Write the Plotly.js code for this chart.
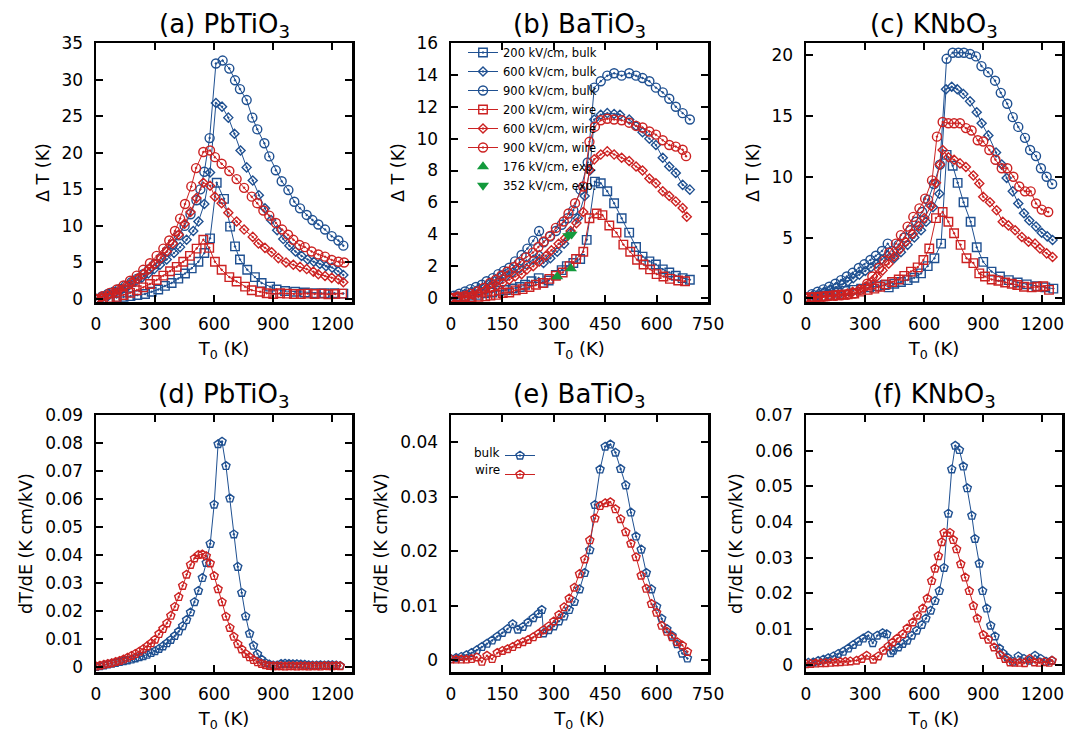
<!DOCTYPE html>
<html><head><meta charset="utf-8">
<script src="https://cdn.plot.ly/plotly-3.0.1.min.js"></script>
<style>html,body{margin:0;padding:0;background:#fff;} #chart{width:1083px;height:738px;}</style>
</head><body><div id="chart"></div>
<script>
// ---------- (a) PbTiO3 : Delta T (K) ----------
const a_T_b200 = [0,35,70,105,140,175,210,249,283,316,350,384,418,452,486,520,550,579,613,650,681,706,731,768,807,841,884,917,960,1011,1061,1112,1160,1210,1256];
const a_V_b200 = [0,0.05,0.1,0.2,0.3,0.4,0.55,0.7,1.0,1.3,1.8,2.2,2.8,3.5,4.2,5.1,6.3,8.3,15.9,13.7,9.9,7.2,5.4,4.0,3.0,2.2,1.7,1.3,1.1,1.0,0.9,0.8,0.8,0.8,0.75];
const a_T_b600 = [0,30,63,96,130,164,198,232,266,296,325,359,396,427,460,494,520,550,579,609,640,672,703,734,765,796,827,858,889,920,951,982,1013,1044,1075,1106,1137,1168,1199,1230,1256];
const a_V_b600 = [0,0.2,0.45,0.85,1.3,1.8,2.35,2.9,3.5,4.1,4.7,5.4,6.3,7.1,8.1,9.3,10.6,13.0,17.3,26.8,26.3,24.8,22.6,20.3,18.0,16.2,14.2,12.4,10.8,9.4,8.2,7.3,6.5,5.9,5.4,5.1,4.8,4.5,4.3,3.8,3.3];
const a_T_b900 = [0,30,60,90,120,150,180,210,240,270,300,330,360,390,420,450,480,510,530,550,577,609,643,677,706,731,765,794,819,855,880,913,943,977,1007,1036,1070,1099,1129,1163,1197,1231,1256];
const a_V_b900 = [0,0.35,0.7,1.0,1.4,1.8,2.3,2.8,3.4,4.1,4.8,5.6,6.5,7.5,8.7,10.0,11.6,13.5,15.0,17.4,22.0,32.2,32.6,31.5,29.9,28.7,27.2,24.8,23.2,21.3,19.5,17.6,16.1,14.9,13.3,12.4,11.5,10.8,10.2,9.5,8.6,8.0,7.3];
const a_T_w200 = [0,35,70,105,139,173,207,240,274,308,342,376,410,443,477,511,545,575,604,638,677,714,757,791,833,867,900,935,970,1005,1040,1075,1110,1145,1180,1215,1250];
const a_V_w200 = [0,0.05,0.15,0.3,0.55,0.85,1.2,1.6,2.05,2.6,3.2,3.8,4.4,5.1,5.9,6.9,8.1,7.0,5.1,4.0,3.0,2.4,1.7,1.2,1.0,0.8,0.7,0.8,0.75,0.7,0.7,0.75,0.7,0.75,0.65,0.7,0.75];
const a_T_w600 = [0,30,60,90,120,150,180,210,240,270,300,330,360,390,420,450,480,510,545,579,604,638,672,714,752,796,825,858,892,926,965,1002,1036,1070,1104,1129,1163,1197,1231,1256];
const a_V_w600 = [0,0.25,0.55,0.9,1.3,1.75,2.25,2.8,3.4,4.1,4.8,5.6,6.5,7.6,8.8,10.3,11.9,13.8,15.9,15.5,14.0,13.1,11.8,10.6,9.5,8.5,7.6,7.0,6.4,5.6,5.0,4.7,4.4,4.1,3.75,3.4,3.15,2.9,2.7,2.3];
const a_T_w900 = [0,35,70,105,140,173,207,240,274,308,342,372,401,427,452,484,508,545,579,604,638,677,714,752,791,819,850,880,914,945,975,1002,1033,1061,1095,1129,1163,1197,1231,1260];
const a_V_w900 = [0,0.4,0.85,1.3,1.85,2.5,3.2,4.0,4.9,5.9,6.9,8.0,9.3,11.0,13.0,15.4,17.9,20.1,20.3,19.4,18.5,17.5,16.4,15.2,14.0,13.1,12.1,11.4,10.4,9.5,8.8,8.1,7.4,7.1,6.5,6.1,5.8,5.35,5.1,5.0];

// ---------- (b) BaTiO3 : Delta T (K) ----------
const b_T_b200 = [0,20,40,60,80,100,120,140,160,180,201,216,235,256,270,285,306,323,338,357,377,396,420,437,456,476,498,520,540,559,579,598,618,637,656,676,697];
const b_V_b200 = [0,0.05,0.1,0.15,0.2,0.3,0.35,0.45,0.5,0.6,0.69,0.83,1.05,1.25,0.95,1.1,1.45,1.75,2.0,2.2,2.45,3.65,7.3,7.2,6.7,5.95,5.0,4.1,3.2,2.6,2.3,2.1,1.8,1.6,1.4,1.25,1.15];
const b_T_b600 = [0,20,40,60,80,100,120,140,160,180,200,220,240,258,270,290,310,330,350,370,390,405,418,437,456,476,493,520,540,559,579,598,618,637,656,676,697];
const b_V_b600 = [0,0.1,0.25,0.4,0.55,0.7,0.9,1.1,1.35,1.6,1.85,2.1,2.4,2.7,2.2,2.5,2.9,3.4,4.1,5.0,6.4,8.0,11.2,11.5,11.6,11.55,11.5,11.2,10.8,10.4,10.0,9.6,8.8,8.25,7.85,7.1,6.8];
const b_T_b900 = [0,9,24,41,57,73,90,104,122,138,154,170,187,206,223,240,257,270,289,306,323,340,357,378,399,418,437,456,476,498,520,540,559,579,598,618,637,656,676,697];
const b_V_b900 = [0,0.14,0.27,0.41,0.56,0.69,0.83,1.05,1.25,1.5,1.7,1.9,2.3,2.7,3.1,3.6,4.2,3.5,3.85,4.2,4.6,5.0,5.5,6.8,8.5,13.2,13.6,13.95,14.1,13.95,14.1,13.95,13.8,13.6,13.2,12.9,12.5,12.0,11.6,11.2];
const b_T_w200 = [0,20,40,60,80,100,115,131,151,170,189,209,229,248,268,287,306,326,346,365,386,404,425,442,462,483,503,523,543,562,581,600,620,639,663,683];
const b_V_w200 = [0,0.02,0.05,0.05,0.08,0.1,0.15,0.2,0.31,0.35,0.48,0.56,0.69,0.83,0.94,1.2,1.4,1.6,2.0,2.45,2.9,5.0,5.3,5.2,4.55,4.1,3.35,2.9,2.4,2.1,1.8,1.5,1.35,1.2,1.1,1.05];
const b_T_w600 = [0,20,46,63,80,99,116,133,151,170,187,206,222,240,258,277,293,314,333,349,366,386,404,418,437,456,476,498,520,540,559,579,598,618,637,656,676,688];
const b_V_w600 = [0,0.03,0.1,0.2,0.31,0.48,0.63,0.77,0.94,1.15,1.35,1.5,1.8,2.0,2.3,2.65,3.0,3.4,3.75,4.2,4.7,5.4,8.05,8.7,9.0,9.2,9.0,8.8,8.6,8.25,8.0,7.5,7.2,6.7,6.4,6.06,5.65,5.1];
const b_T_w900 = [0,21,41,57,77,95,114,131,147,164,184,201,219,239,255,271,289,306,329,343,362,386,404,420,437,456,476,498,520,540,559,579,598,618,637,656,676,686];
const b_V_w900 = [0,0.1,0.14,0.27,0.41,0.63,0.94,1.15,1.4,1.65,1.95,2.25,2.55,2.85,3.2,3.55,3.9,4.4,4.8,5.3,5.95,7.0,9.8,10.75,11.15,11.25,11.2,11.15,11.0,10.8,10.7,10.45,10.25,9.9,9.6,9.5,9.3,8.9];
const b_T_exp176 = [310,350];
const b_V_exp176 = [1.35,1.85];
const b_T_exp352 = [342,352];
const b_V_exp352 = [3.9,4.0];

// ---------- (c) KNbO3 : Delta T (K) ----------
const c_T_b200 = [0,40,80,120,160,200,240,280,320,360,400,420,448,482,516,550,584,618,652,686,714,745,770,800,836,867,900,942,985,1030,1075,1121,1170,1215,1256];
const c_V_b200 = [0,0.1,0.2,0.3,0.45,0.6,0.7,0.8,0.9,1.0,1.1,0.9,1.2,1.35,1.5,1.7,2.05,2.65,3.3,4.5,11.8,10.9,9.5,7.9,6.3,4.2,3.0,2.2,1.8,1.5,1.3,1.15,1.0,0.9,0.8];
const c_T_b600 = [0,34,65,93,122,152,183,212,240,271,301,330,355,384,413,448,482,516,550,584,610,645,677,711,740,768,799,833,867,892,926,965,994,1019,1050,1078,1107,1134,1168,1197,1225,1252];
const c_V_b600 = [0.05,0.25,0.4,0.55,0.72,0.92,1.13,1.38,1.65,1.95,2.25,2.55,2.85,3.2,3.55,3.3,3.8,4.4,5.0,5.6,6.3,7.5,8.6,17.2,17.4,17.2,16.8,16.2,15.3,14.4,13.4,12.0,11.0,9.9,8.8,7.8,7.0,6.4,5.9,5.4,5.1,4.8];
const c_T_b900 = [0,30,59,88,118,149,178,207,237,268,296,327,355,386,415,440,470,500,530,560,590,620,650,680,714,745,774,802,833,863,891,925,960,989,1022,1050,1078,1112,1138,1168,1193,1222,1250];
const c_V_b900 = [0.1,0.35,0.54,0.74,0.95,1.2,1.5,1.8,2.1,2.5,2.8,3.15,3.5,3.9,4.5,3.9,4.4,5.0,5.6,6.3,7.1,8.1,9.4,11.0,19.7,20.2,20.2,20.2,20.1,19.9,19.1,18.6,17.9,16.9,16.0,14.9,14.1,13.2,12.2,11.7,10.7,10.0,9.4];
const c_T_w200 = [0,30,60,90,120,150,180,212,245,279,313,347,376,406,437,471,499,533,567,596,626,660,694,723,752,785,815,850,880,909,943,977,1011,1045,1073,1107,1146,1175,1205,1234];
const c_V_w200 = [0.05,0.1,0.12,0.15,0.2,0.25,0.3,0.33,0.4,0.55,0.7,0.8,0.95,1.15,1.35,1.55,1.85,2.2,2.55,3.15,4.1,6.6,7.1,6.3,5.35,4.4,3.3,2.9,2.05,1.8,1.55,1.45,1.3,1.2,1.1,0.95,0.9,0.95,1.0,0.7];
const c_T_w600 = [0,30,60,90,120,150,180,210,237,271,301,330,360,389,420,448,477,507,541,572,601,635,660,680,694,723,752,782,812,850,880,900,934,968,999,1028,1062,1096,1130,1163,1188,1222,1252];
const c_V_w600 = [0.05,0.1,0.12,0.15,0.2,0.25,0.3,0.4,0.54,0.74,0.95,1.35,1.8,2.3,2.85,3.45,4.05,4.65,5.3,5.95,6.6,7.6,9.5,11.0,12.2,11.6,11.4,11.1,10.8,10.1,9.45,8.35,7.9,7.25,6.3,6.0,5.6,5.05,4.65,4.5,4.1,3.7,3.4];
const c_T_w900 = [0,30,60,90,120,150,180,210,245,277,311,337,370,398,423,457,482,516,545,576,605,640,665,694,723,752,782,812,841,872,900,931,962,994,1022,1053,1083,1112,1141,1168,1197,1230];
const c_V_w900 = [0.05,0.05,0.1,0.15,0.2,0.2,0.25,0.3,0.4,0.7,1.2,1.8,2.5,3.1,3.75,4.5,5.2,5.9,6.7,7.4,8.2,9.7,13.3,14.5,14.4,14.4,14.4,14.0,13.8,13.0,12.9,12.2,11.4,10.7,10.7,10.0,9.2,8.8,8.8,7.8,7.3,7.1];

// ---------- (d) PbTiO3 : dT/dE ----------
const d_T = [0,20,40,60,80,100,120,140,160,180,200,220,240,260,280,300,320,340,360,380,400,420,440,460,480,500,520,540,560,580,600,620,640,660,680,700,720,740,760,780,800,820,840,860,880,900,920,940,960,980,1000,1020,1040,1060,1080,1100,1120,1140,1160,1180,1200,1220,1240];
const d_V_bulk = [0.0000,0.0003,0.0006,0.0009,0.0012,0.0015,0.0018,0.0021,0.0024,0.0027,0.0031,0.0035,0.0039,0.0044,0.0050,0.0057,0.0065,0.0074,0.0085,0.0097,0.0111,0.0127,0.0146,0.0168,0.0195,0.0232,0.0272,0.0318,0.0372,0.0440,0.0580,0.0796,0.0805,0.0718,0.0602,0.0474,0.0358,0.0265,0.0181,0.0119,0.0076,0.0046,0.0027,0.0015,0.0009,0.0006,0.0006,0.0011,0.0012,0.0011,0.0010,0.0010,0.0009,0.0008,0.0007,0.0006,0.0006,0.0007,0.0006,0.0007,0.0007,0.0006,0.0004];
const d_V_wire = [0.0002,0.0005,0.0008,0.0011,0.0014,0.0018,0.0022,0.0027,0.0033,0.0040,0.0047,0.0055,0.0064,0.0074,0.0085,0.0098,0.0118,0.0136,0.0156,0.0183,0.0215,0.0250,0.0290,0.0330,0.0365,0.0388,0.0400,0.0402,0.0396,0.0370,0.0325,0.0278,0.0232,0.0180,0.0140,0.0108,0.0082,0.0063,0.0047,0.0035,0.0025,0.0017,0.0011,0.0007,0.0004,0.0003,0.0003,0.0003,0.0002,0.0003,0.0003,0.0002,0.0003,0.0003,0.0002,0.0003,0.0003,0.0002,0.0004,0.0003,0.0003,0.0004,0.0003];

// ---------- (e) BaTiO3 : dT/dE ----------
const e_T_bulk = [0,15,30,45,60,75,90,105,120,135,150,165,180,195,210,225,240,255,265,270,285,300,315,330,345,360,375,390,405,420,435,450,465,480,495,510,525,540,555,570,585,600,615,630,645,660,675,690];
const e_V_bulk = [0.0002,0.0004,0.0006,0.0009,0.0013,0.0018,0.0024,0.003,0.0036,0.0043,0.005,0.0057,0.0066,0.0056,0.0061,0.0069,0.0077,0.0085,0.0092,0.0049,0.0055,0.0062,0.0071,0.008,0.0092,0.0107,0.013,0.016,0.0202,0.0285,0.035,0.0392,0.0396,0.0381,0.0351,0.0321,0.0271,0.0227,0.0203,0.016,0.013,0.0098,0.0076,0.0057,0.0045,0.0029,0.0012,0.0003];
const e_T_wire = [0,15,30,45,60,75,90,105,120,135,150,165,180,195,210,225,240,255,270,285,300,315,330,345,360,375,390,405,420,435,450,465,480,495,510,525,540,555,570,585,600,615,630,645,660,675,690];
const e_V_wire = [0.0001,0.0001,0.0001,0.0001,0.0002,0.0005,-0.0003,0.0008,0.0002,0.0013,0.0017,0.002,0.0024,0.0029,0.0033,0.0037,0.0042,0.0048,0.0055,0.0062,0.0071,0.0083,0.0097,0.0113,0.0133,0.0158,0.0185,0.022,0.026,0.0283,0.0288,0.029,0.0277,0.0259,0.0235,0.0214,0.0189,0.0155,0.0131,0.0103,0.0087,0.0063,0.0052,0.0042,0.0033,0.0027,0.0015];

// ---------- (f) KNbO3 : dT/dE ----------
const f_T_bulk = [12,37,62,88,113,139,164,189,215,240,266,291,316,339,362,389,410,430,443,469,491,514,537,562,588,609,633,655,677,701,723,740,758,779,799,819,842,858,880,897,918,938,960,982,999,1022,1050,1078,1107,1134,1163,1192,1219,1248];
const f_V_bulk = [0.0006,0.0007,0.0011,0.0015,0.0019,0.0024,0.0031,0.0037,0.0046,0.0056,0.0065,0.0074,0.0082,0.0061,0.0082,0.0089,0.0086,0.0033,0.004,0.0049,0.0059,0.0068,0.0082,0.0096,0.0112,0.013,0.0152,0.0179,0.0207,0.0272,0.0424,0.0548,0.0614,0.0602,0.0556,0.0495,0.0418,0.0353,0.0284,0.0207,0.0158,0.011,0.008,0.0046,0.0033,0.0021,0.0009,0.0024,0.0017,0.0012,0.0026,0.0017,0.0009,0.0012];
const f_T_wire = [0,25,50,75,100,125,150,175,200,225,257,283,308,342,367,393,418,440,464,491,514,542,565,593,616,638,655,672,689,701,731,748,765,786,808,829,850,870,900,926,955,985,1011,1036,1060,1085,1110,1135,1160,1185,1210,1235,1250];
const f_V_wire = [0.0002,0.0003,0.0004,0.0005,0.0005,0.0006,0.0007,0.0008,0.0009,0.001,0.0012,0.0017,0.0026,0.0015,0.0024,0.004,0.0052,0.0063,0.0074,0.0086,0.0102,0.0119,0.0138,0.0158,0.0186,0.0235,0.027,0.0305,0.0344,0.037,0.037,0.035,0.0324,0.0282,0.0245,0.0207,0.0165,0.013,0.0084,0.0071,0.0049,0.0028,0.0017,0.0007,0.0006,0.0006,0.0005,0.0017,0.0007,0.0006,0.0008,0.0006,0.0012];

const panelTitles = ['(a) PbTiO<sub>3</sub>','(b) BaTiO<sub>3</sub>','(c) KNbO<sub>3</sub>','(d) PbTiO<sub>3</sub>','(e) BaTiO<sub>3</sub>','(f) KNbO<sub>3</sub>'];
const seriesNames = ['200 kV/cm, bulk','600 kV/cm, bulk','900 kV/cm, bulk','200 kV/cm, wire','600 kV/cm, wire','900 kV/cm, wire'];
const expNames = ['176 kV/cm, exp.','352 kV/cm, exp.'];
const derivNames = ['bulk','wire'];

const BLUE = '#1f5091', RED = '#cc2222', GREEN = '#139a3c';
const FONT = 'DejaVu Sans, Arial, sans-serif';

function tr(x, y, color, symbol, size, ax, name, legend) {
  return {
    type: 'scatter', mode: 'lines+markers', x: x, y: y, name: name,
    xaxis: 'x' + ax, yaxis: 'y' + ax,
    line: {color: color, width: 1},
    marker: {symbol: symbol, size: size, color: color, line: {color: color, width: 1.4}},
    showlegend: !!legend, legend: legend || 'legend', cliponaxis: true
  };
}
const SYM = ['square-open-dot','diamond-open-dot','circle-open-dot'];
const SZ = [8.5, 7, 9];
const traces = [];
function addDT(ax, sets, legend) {
  sets.forEach((s, i) => {
    const col = i < 3 ? BLUE : RED;
    traces.push(tr(s[0], s[1], col, SYM[i % 3], SZ[i % 3], ax === 1 ? '' : ax, seriesNames[i], legend));
  });
}
addDT(1, [[a_T_b200,a_V_b200],[a_T_b600,a_V_b600],[a_T_b900,a_V_b900],[a_T_w200,a_V_w200],[a_T_w600,a_V_w600],[a_T_w900,a_V_w900]], null);
addDT(2, [[b_T_b200,b_V_b200],[b_T_b600,b_V_b600],[b_T_b900,b_V_b900],[b_T_w200,b_V_w200],[b_T_w600,b_V_w600],[b_T_w900,b_V_w900]], 'legend');
traces.push({type:'scatter', mode:'markers', x:b_T_exp176, y:b_V_exp176, name:expNames[0], xaxis:'x2', yaxis:'y2',
  marker:{symbol:'triangle-up', size:10.5, color:GREEN}, showlegend:true, legend:'legend'});
traces.push({type:'scatter', mode:'markers', x:b_T_exp352, y:b_V_exp352, name:expNames[1], xaxis:'x2', yaxis:'y2',
  marker:{symbol:'triangle-down', size:10.5, color:GREEN}, showlegend:true, legend:'legend'});
addDT(3, [[c_T_b200,c_V_b200],[c_T_b600,c_V_b600],[c_T_b900,c_V_b900],[c_T_w200,c_V_w200],[c_T_w600,c_V_w600],[c_T_w900,c_V_w900]], null);

traces.push(tr(d_T, d_V_bulk, BLUE, 'pentagon-open-dot', 8.5, 4, derivNames[0], null));
traces.push(tr(d_T, d_V_wire, RED, 'pentagon-open-dot', 8.5, 4, derivNames[1], null));
const eb = tr(e_T_bulk, e_V_bulk, BLUE, 'pentagon-open-dot', 8.5, 5, '', 'legend2');
const ew = tr(e_T_wire, e_V_wire, RED, 'pentagon-open-dot', 8.5, 5, '', 'legend2');
traces.push(eb, ew);
traces.push(tr(f_T_bulk, f_V_bulk, BLUE, 'pentagon-open-dot', 8.5, 6, derivNames[0], null));
traces.push(tr(f_T_wire, f_V_wire, RED, 'pentagon-open-dot', 8.5, 6, derivNames[1], null));

const W = 1083, H = 738;
const XD = [[96/W, 352/W],[451/W, 708/W],[806/W, 1062/W]];
const YD = [[(H-302)/H, (H-43)/H],[(H-672)/H, (H-415)/H]];

function axisBase(extra) {
  return Object.assign({
    showline: true, mirror: 'allticks', linecolor: '#000', linewidth: 2.5,
    ticks: 'inside', ticklen: 7, tickwidth: 2, tickcolor: '#000',
    showgrid: false, zeroline: false, fixedrange: true,
    tickfont: {family: FONT, size: 17, color: '#000'}
  }, extra);
}
const T0 = 'T<sub>0</sub> (K)';
const layout = {
  width: W, height: H, margin: {l:0, r:0, t:0, b:0},
  paper_bgcolor: '#fff', plot_bgcolor: '#fff',
  font: {family: FONT, color: '#000'},
  legend: {x: 463/W, y: 1 - 38/H, xanchor: 'left', yanchor: 'top', bgcolor: 'rgba(0,0,0,0)',
    font: {family: FONT, size: 11.5, color: '#000'}, itemwidth: 30, tracegroupgap: 0},
  legend2: {x: 500/W, y: 1 - 441/H, xanchor: 'left', yanchor: 'top', bgcolor: 'rgba(0,0,0,0)',
    font: {family: FONT, size: 12, color: '#000'}, itemwidth: 30},
  showlegend: true,
  annotations: []
};
const xr = [[0,1300],[0,750],[0,1300]];
const xdt = [300,150,300];
const yr = [[-0.4,35],[-0.25,16],[-0.3,21],[-0.0018,0.09],[-0.0022,0.045],[-0.002,0.07]];
const ydt = [5,2,5,0.01,0.01,0.01];
const ytitles = ['\u0394 T (K)','\u0394 T (K)','\u0394 T (K)','dT/dE (K cm/kV)','dT/dE (K cm/kV)','dT/dE (K cm/kV)'];
for (let i = 0; i < 6; i++) {
  const col = i % 3, row = Math.floor(i / 3);
  const id = i === 0 ? '' : String(i + 1);
  layout['xaxis' + id] = axisBase({domain: XD[col], range: xr[col], dtick: xdt[col], tick0: 0,
    anchor: 'y' + id, ticklabelstandoff: 5,
    title: {text: T0, font: {family: FONT, size: 18}, standoff: 10}});
  layout['yaxis' + id] = axisBase({domain: YD[row], range: yr[i], dtick: ydt[i], tick0: 0,
    anchor: 'x' + id, ticklabelstandoff: 7,
    title: {text: ytitles[i], font: {family: FONT, size: 17.5}, standoff: 8}});
  layout.annotations.push({text: panelTitles[i], xref: 'paper', yref: 'paper',
    x: (XD[col][0] + XD[col][1]) / 2, y: row === 0 ? 1 - 25/H : 1 - 395/H,
    xanchor: 'center', yanchor: 'middle', showarrow: false,
    font: {family: FONT, size: 26, color: '#000'}});
}
layout.annotations.push({text: derivNames[0], xref:'paper', yref:'paper', x: 502/W, y: 1 - 453/H,
  xanchor:'right', yanchor:'middle', showarrow:false, font:{family: FONT, size: 12, color:'#000'}});
layout.annotations.push({text: derivNames[1], xref:'paper', yref:'paper', x: 502/W, y: 1 - 470/H,
  xanchor:'right', yanchor:'middle', showarrow:false, font:{family: FONT, size: 12, color:'#000'}});

Plotly.newPlot('chart', traces, layout, {staticPlot: true, displayModeBar: false});
</script></body></html>
